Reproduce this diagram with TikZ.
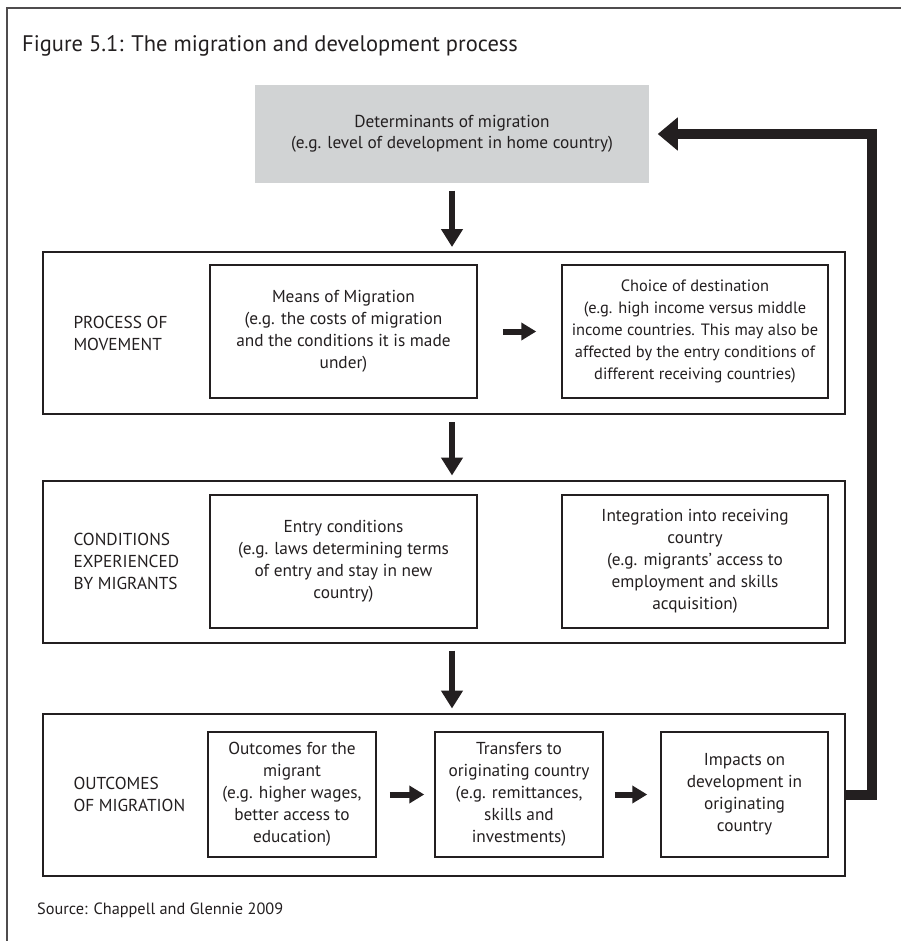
\documentclass[tikz,border=0pt]{standalone}
\usepackage{fontspec}
\setmainfont{PT Sans}
\usetikzlibrary{arrows.meta,positioning}
\definecolor{ink}{HTML}{231F20}
\definecolor{shade}{HTML}{D1D3D4}
\tikzset{panel/.style={draw=ink, line width=2pt, minimum width=802pt, minimum height=162pt, inner sep=0pt}}
\tikzset{box/.style={draw=ink, line width=1.5pt, align=center, inner sep=0pt, text=ink, font=\fontsize{17.3}{22}\selectfont}}
\tikzset{lab/.style={anchor=west, align=left, text=ink, font=\fontsize{17.3}{22}\selectfont}}
\tikzset{down/.style={ink, line width=6pt, shorten <=7pt, shorten >=4pt, -{Triangle[width=21pt,length=18pt]}}}
\tikzset{side/.style={ink, line width=6pt, -{Triangle[width=17pt,length=15pt]}}}
\tikzset{back/.style={ink, line width=10pt, line join=miter, shorten >=8pt, -{Triangle[width=32pt,length=20pt]}}}

\begin{document}
\begin{tikzpicture}[x=1pt, y=-1pt]
\useasboundingbox (0,0) rectangle (901,941);
% frame and captions
\draw[line width=1.5pt, color=ink!80] (7,941) -- (7,8) -- (901,8);
\node[anchor=base west, text=ink, inner sep=0pt, font=\fontsize{22.5}{26}\selectfont] (title) at (22,52)
    {Figure 5.1: The migration and development process};
\node[anchor=west, text=ink, inner sep=0pt, font=\fontsize{16.3}{20}\selectfont] (src) at (37,910)
    {Source: Chappell and Glennie 2009};

% determinants
\node[box, draw=none, fill=shade, minimum width=394pt, minimum height=98pt, font=\fontsize{17.3}{21}\selectfont] (Det) at (452,134)
    {Determinants of migration\\(e.g. level of development in home country)};

% the three panels
\node[panel] (P1) at (444,333) {};
\node[panel] (P2) at (444,561.5) {};
\node[panel] (P3) at (444,794.5) {};

\node[lab] (L1) at ([xshift=28pt]P1.west) {PROCESS OF\\MOVEMENT};
\node[lab] (L2) at ([xshift=28pt]P2.west) {CONDITIONS\\EXPERIENCED\\BY MIGRANTS};
\node[lab] (L3) at ([xshift=28pt]P3.west) {OUTCOMES\\OF MIGRATION};

\node[box, minimum width=267pt, minimum height=133pt] (Means) at (343.5,331.5)
    {Means of Migration\\(e.g. the costs of migration\\and the conditions it is made\\under)};
\node[box, minimum width=266pt, minimum height=133pt, font=\fontsize{16.4}{22}\selectfont] (Choice) at (695,331.5)
    {Choice of destination\\(e.g. high income versus middle\\income countries. This may also be\\affected by the entry conditions of\\different receiving countries)};

\node[box, minimum width=267pt, minimum height=133pt] (Entry) at (343.5,561.5)
    {Entry conditions\\(e.g. laws determining terms\\of entry and stay in new\\country)};
\node[box, minimum width=266pt, minimum height=133pt] (Integ) at (695,561.5)
    {Integration into receiving\\country\\(e.g. migrants’ access to\\employment and skills\\acquisition)};

\node[box, minimum width=168pt, minimum height=125pt] (Outc) at (292,794.5)
    {Outcomes for the\\migrant\\(e.g. higher wages,\\better access to\\education)};
\node[box, minimum width=168pt, minimum height=125pt] (Trans) at (519,794.5)
    {Transfers to\\originating country\\(e.g. remittances,\\skills and\\investments)};
\node[box, minimum width=167pt, minimum height=125pt] (Impact) at (744.5,794.5)
    {Impacts on\\development in\\originating\\country};

% arrows
\draw[down] (Det.south) -- (Det.south |- P1.north);
\draw[down] (Det.south |- P1.south) -- (Det.south |- P2.north);
\draw[down] (Det.south |- P2.south) -- (Det.south |- P3.north);
\draw[side, shorten <=25pt, shorten >=25pt] (Means) -- (Choice);
\draw[side, shorten <=13pt, shorten >=10pt] (Outc) -- (Trans);
\draw[side, shorten <=11pt, shorten >=13pt] (Trans) -- (Impact);
\draw[back] (P3.east) -- ++(26,0) |- (Det.east);
\end{tikzpicture}
\end{document}
